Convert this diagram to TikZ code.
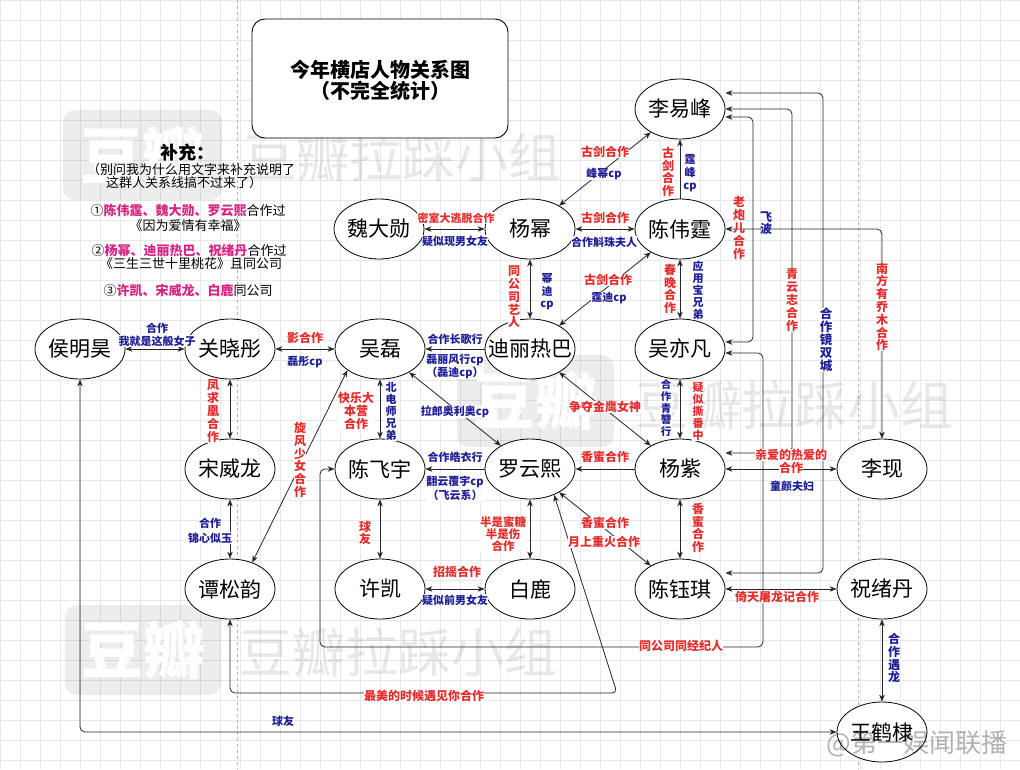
\documentclass[tikz,border=0pt]{standalone}
\usepackage{fontspec}
\setmainfont{Noto Sans CJK SC}
\usetikzlibrary{arrows.meta,shapes.geometric}
\definecolor{lred}{RGB}{228,44,44}
\definecolor{lblue}{RGB}{30,30,150}
\definecolor{pnk}{RGB}{214,36,132}
\definecolor{gridc}{RGB}{232,232,232}
\newcommand\zw[1]{\makebox[0pt]{#1}}
\begin{document}
\begin{tikzpicture}[x=1pt,y=-1pt,
  >={Stealth[length=7pt,width=5.5pt]},
  person/.style={ellipse,draw=black,line width=0.8pt,fill=white,minimum width=90pt,minimum height=60pt,inner sep=0pt,font=\fontsize{21}{21}\selectfont},
  lab/.style={inner sep=0.4pt,fill=white,align=center},
  rlab/.style={lab,text=lred,font=\fontsize{12}{12.8}\selectfont\bfseries},
  blab/.style={lab,text=lblue,font=\fontsize{11}{12}\selectfont\bfseries},
  nofill/.style={fill=none},
  link/.style={draw=black!85,line width=0.8pt},
  both/.style={link,<->},
  one/.style={link,->},
  route/.style={link,<->,rounded corners=5pt},
  note/.style={inner sep=0pt,font=\fontsize{13}{13}\selectfont},
  gridline/.style={draw=gridc,line width=0.5pt},
  wmtext/.style={text=black,opacity=0.09,font=\fontsize{53}{53}\selectfont},
  wmbox/.style={fill=black,opacity=0.07,rounded corners=12pt},
  wmlogo/.style={text=white,font=\fontsize{62}{62}\selectfont\bfseries},
]
\useasboundingbox (0,0) rectangle (1020,769);
\fill[white] (0,0) rectangle (1020,769);
\foreach \gx in {0,20,...,1020} \draw[gridline] (\gx,0) -- (\gx,769);
\foreach \gy in {0,20,...,760} \draw[gridline] (0,\gy) -- (1020,\gy);
\draw[black!30,dashed,line width=0.5pt] (237,0) -- (237,769) (858,0) -- (858,769);

% watermarks (behind the diagram)
\fill[wmbox] (63,110) rectangle (222,200);
\node[wmlogo] (wm1) at (142,156) {豆瓣};
\node[wmtext] (wm2) at (402,157) {豆瓣拉踩小组};
\fill[wmbox] (457,355) rectangle (614,447);
\node[wmlogo] (wm3) at (535,401) {豆瓣};
\node[wmtext] (wm4) at (794,405) {豆瓣拉踩小组};
\fill[wmbox] (65,605) rectangle (221,695);
\node[wmlogo] (wm5) at (143,650) {豆瓣};
\node[wmtext] (wm6) at (398,652) {豆瓣拉踩小组};

% persons
\node[person] (lyf) at (680,109) {\zw{李易峰}};
\node[person] (cwt) at (680,229) {\zw{陈伟霆}};
\node[person] (wyf) at (680,349) {\zw{吴亦凡}};
\node[person] (ym) at (530,229) {\zw{杨幂}};
\node[person] (wdx) at (379,229) {\zw{魏大勋}};
\node[person] (dlrb) at (530,349) {\zw{迪丽热巴}};
\node[person] (wl) at (380,349) {\zw{吴磊}};
\node[person] (gxt) at (230,349) {\zw{关晓彤}};
\node[person] (hmh) at (80,349) {\zw{侯明昊}};
\node[person] (swl) at (230,469) {\zw{宋威龙}};
\node[person] (tsy) at (230,589) {\zw{谭松韵}};
\node[person] (cfy) at (380,469) {\zw{陈飞宇}};
\node[person] (lyx) at (530,469) {\zw{罗云熙}};
\node[person] (xk) at (380,589) {\zw{许凯}};
\node[person] (bailu) at (530,589) {\zw{白鹿}};
\node[person] (yz) at (680,469) {\zw{杨紫}};
\node[person] (lx) at (882,469) {\zw{李现}};
\node[person] (cyq) at (680,589) {\zw{陈钰琪}};
\node[person] (zxd) at (882,589) {\zw{祝绪丹}};
\node[person] (whd) at (882,732) {\zw{王鹤棣}};

% bend points
\coordinate (wA) at (763,647);
\coordinate (wB) at (320,647);
\coordinate (lA) at (753,342);
\coordinate (yA) at (792,453);
\coordinate (qA) at (823,573);
\coordinate (tA) at (617,693);

% straight connectors
\draw[both] (ym) -- (lyf);
\draw[one] (cwt) -- (lyf);
\draw[both] (ym) -- (cwt);
\draw[both] (wdx) -- (ym);
\draw[both] (ym) -- (dlrb);
\draw[both] (cwt) -- (dlrb);
\draw[both] (cwt) -- (wyf);
\draw[both] (wyf) -- (yz);
\draw[one] (yz) -- (lyx);
\draw[both] (dlrb) -- (yz);
\draw[both] (lyx) -- (cyq);
\draw[one] (lyx) -- (cfy);
\draw[one] (dlrb) -- (wl);
\draw[both] (wl) -- (lyx);
\draw[both] (wl) -- (cfy);
\draw[both] (gxt) -- (wl);
\draw[both] (hmh) -- (gxt);
\draw[both] (gxt) -- (swl);
\draw[both] (swl) -- (tsy);
\draw[both] (tsy.50) -- (wl.213);
\draw[both] (cfy) -- (xk);
\draw[both] (lyx) -- (bailu);
\draw[both] (xk) -- (bailu);
\draw[both] (yz) -- (lx);
\draw[both] (yz) -- (cyq);
\draw[both] (cyq) -- (zxd);
\draw[both] (zxd) -- (whd);

% routed connectors
\draw[route] (tsy.south) |- (tA) -- (lyx.313);
\draw[route] (hmh.south) |- (whd.west);
\draw[route] ([yshift=-4pt]wyf.east) -| (wA) -- (wB) |- (cfy.west);
\draw[route] ([yshift=-8pt]lyf.east) -| (lA) -- ([yshift=7pt]wyf.east);
\draw[route] (lyf.east) -| (yA) -- ([yshift=16pt]yz.east);
\draw[route] ([yshift=16pt]lyf.east) -| (qA) -- ([yshift=16pt]cyq.east);
\draw[route] (cwt.east) -| (lx.north);

% labels
\node[rlab] (L1) at (668,172) {古\\剑\\合\\作};
\node[blab,font=\fontsize{11}{13}\selectfont\bfseries] (L2) at (690,173) {霆\\峰\\cp};
\node[rlab] (L3) at (605,152) {古剑合作};
\node[blab] (L4) at (604,174) {峰幂cp};
\node[rlab] (L5) at (605,218) {古剑合作};
\node[blab] (L6) at (604,242) {合作斛珠夫人};
\node[rlab,font=\fontsize{11}{12}\selectfont\bfseries] (L7) at (456,218) {密室大逃脱合作};
\node[blab] (L8) at (455,241) {疑似现男女友};
\node[rlab] (L9) at (514,297) {同\\公\\司\\艺\\人};
\node[blab,font=\fontsize{11}{12.5}\selectfont\bfseries] (L10) at (547,292) {幂\\迪\\cp};
\node[rlab] (L11) at (608,280) {古剑合作};
\node[blab] (L12) at (609,298) {霆迪cp};
\node[rlab] (L13) at (670,289) {春\\晚\\合\\作};
\node[blab] (L14) at (698,290) {应\\用\\宝\\兄\\弟};
\node[blab,font=\fontsize{10.5}{11.6}\selectfont\bfseries] (L15) at (666,408) {合\\作\\青\\簪\\行};
\node[rlab,font=\fontsize{11}{12}\selectfont\bfseries] (L16) at (698,411) {疑\\似\\撕\\番\\中};
\node[rlab] (L17) at (605,457) {香蜜合作};
\node[rlab] (L18) at (605,407) {争夺金鹰女神};
\node[rlab] (L19) at (605,523) {香蜜合作};
\node[rlab] (L20) at (604,542) {月上重火合作};
\node[blab] (L21) at (455,457) {合作皓衣行};
\node[blab] (L22) at (455,482) {翻云覆宇cp};
\node[blab] (L23) at (455,495) {（飞云系）};
\node[blab] (L24) at (455,339) {合作长歌行};
\node[blab] (L25) at (455,360) {磊丽风行cp};
\node[blab] (L26) at (455,373) {（磊迪cp）};
\node[blab] (L27) at (455,412) {拉郎奥利奥cp};
\node[rlab] (L28) at (356,411) {快乐大\\本营\\合作};
\node[blab] (L29) at (391,411) {北\\电\\师\\兄\\弟};
\node[rlab] (L30) at (305,338) {影合作};
\node[blab] (L31) at (305,362) {磊彤cp};
\node[blab] (L32) at (157,328) {合作};
\node[blab] (L33) at (157,341) {我就是这般女子};
\node[rlab] (L34) at (213,411) {凤\\求\\凰\\合\\作};
\node[blab] (L35) at (210,523) {合作};
\node[blab] (L36) at (210,538) {锦心似玉};
\node[rlab] (L37) at (300,460) {旋\\风\\少\\女\\合\\作};
\node[rlab] (L38) at (365,533) {球\\友};
\node[rlab,font=\fontsize{11.5}{12}\selectfont\bfseries] (L39) at (503,534) {半是蜜糖\\半是伤\\合作};
\node[rlab] (L40) at (457,572) {招摇合作};
\node[blab] (L41) at (455,600) {疑似前男女友};
\node[rlab] (L42) at (424,696) {最美的时候遇见你合作};
\node[blab] (L43) at (283,721) {球友};
\node[rlab] (L44) at (681,646) {同公司同经纪人};
\node[rlab,nofill] (L45) at (739,228) {老\\炮\\儿\\合\\作};
\node[blab,nofill,font=\fontsize{12}{12.5}\selectfont\bfseries] (L46) at (766,223) {飞\\波};
\node[rlab] (L47) at (792,300) {青\\云\\志\\合\\作};
\node[blab,font=\fontsize{12.5}{13}\selectfont\bfseries] (L48) at (826,340) {合\\作\\镜\\双\\城};
\node[rlab] (L49) at (882,307) {南\\方\\有\\乔\\木\\合\\作};
\node[rlab] (L51) at (791,468) {合作};
\node[rlab] (L50) at (791,455) {亲爱的热爱的};
\node[blab] (L52) at (792,486) {童颜夫妇};
\node[rlab] (L53) at (698,528) {香\\蜜\\合\\作};
\node[rlab] (L54) at (777,597) {倚天屠龙记合作};
\node[blab,font=\fontsize{12}{12.8}\selectfont\bfseries] (L55) at (894,658) {合\\作\\遇\\龙};

% title
\node[draw=black,line width=0.9pt,rounded corners=13pt,fill=white,minimum width=256pt,minimum height=119pt] (titlebox) at (380,78.5) {};
\node[align=center,inner sep=0pt,font=\fontsize{20}{21}\selectfont\bfseries] (title) at (380,80) {今年横店人物关系图\\（不完全统计）};

% notes
\node[inner sep=0pt,font=\fontsize{18}{18}\selectfont\bfseries] (n0) at (187,153) {补充：};
\node[note] (n1) at (191,170) {（别问我为什么用文字来补充说明了};
\node[note] (n2) at (184,183) {这群人关系线搞不过来了）};
\node[note] (n3) at (188,211) {①\textcolor{pnk}{\bfseries 陈伟霆、魏大勋、罗云熙}合作过};
\node[note] (n4) at (188,226) {《因为爱情有幸福》};
\node[note] (n5) at (189,251) {②\textcolor{pnk}{\bfseries 杨幂、迪丽热巴、祝绪丹}合作过};
\node[note] (n6) at (191,264) {《三生三世十里桃花》且同公司};
\node[note] (n7) at (188,291) {③\textcolor{pnk}{\bfseries 许凯、宋威龙、白鹿}同公司};

% weibo watermark (on top)
\node[text=black,opacity=0.3,font=\fontsize{26}{26}\selectfont] (wm7) at (917,744) {@第一娱闻联播};
\end{tikzpicture}
\end{document}
